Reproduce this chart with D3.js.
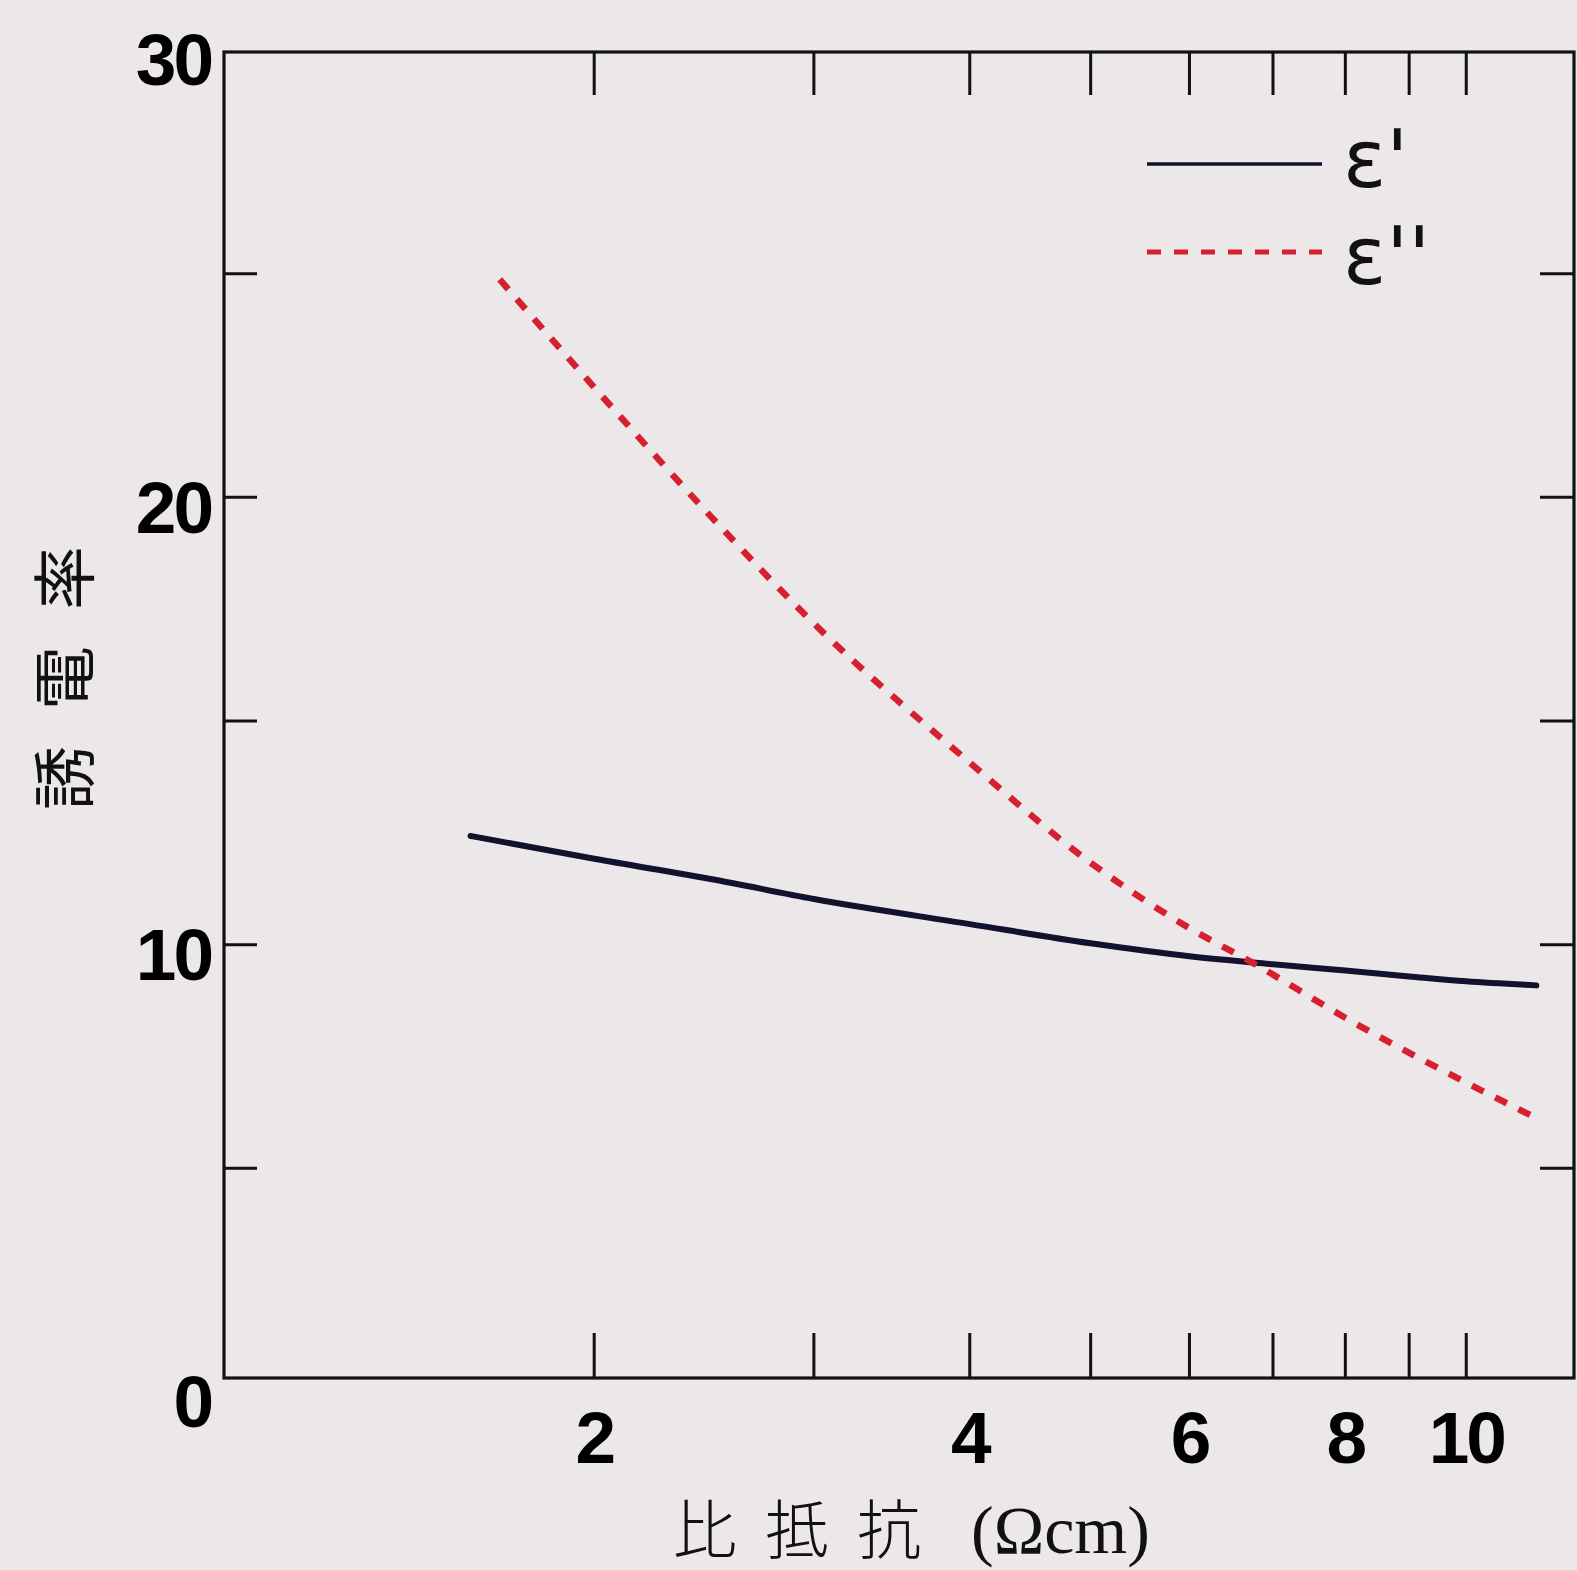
<!DOCTYPE html>
<html><head><meta charset="utf-8">
<script src="https://cdn.jsdelivr.net/npm/d3@7"></script>
<style>
html,body{margin:0;padding:0;background:#ece8e9;}
svg{display:block;}
</style>
</head><body>
<svg id="chart" width="1577" height="1570"></svg>
<script>
// ---- data ----
const resistivity1 = [1.592, 2.0, 2.5, 3.0, 4.0, 5.0, 6.0, 7.0, 8.0, 9.0, 10.0, 11.38];
const epsReal      = [12.43, 11.92, 11.45, 11.02, 10.46, 10.03, 9.74, 9.56, 9.42, 9.29, 9.18, 9.09];
const resistivity2 = [1.680, 2.0, 2.5, 3.0, 4.0, 5.0, 6.0, 6.737, 8.006, 10.04, 11.26];
const epsImag      = [24.87, 22.46, 19.47, 17.18, 14.07, 11.83, 10.37, 9.60, 8.36, 6.89, 6.19];
const xTickLabels = [2, 4, 6, 8, 10];
const xMinorTicks = [2, 3, 4, 5, 6, 7, 8, 9, 10];
const yTickLabels = [0, 10, 20, 30];
const yMinorTicks = [5, 10, 15, 20, 25];
const seriesNames = ["ε'", "ε''"];
const xTitle = "比 抵 抗";
const xUnit = "(Ωcm)";
const yTitle = "誘電率";

const svg = d3.select("#chart");
const L = 224, R = 1574, T = 52, B = 1378;
const x = d3.scaleLog().domain([1.01, 12.2]).range([L, R]);
const y = d3.scaleLinear().domain([0, 30]).range([1392, 50]);

const bg = "#ece8e9";
svg.append("rect").attr("width",1577).attr("height",1570).attr("fill",bg);

// frame
svg.append("rect").attr("x",L).attr("y",T).attr("width",R-L).attr("height",B-T)
  .attr("fill","none").attr("stroke","#111").attr("stroke-width",3.2);

// ticks (inward, all four sides)
const tk = svg.append("g").attr("stroke","#111").attr("stroke-width",3);
xMinorTicks.forEach(v=>{
  tk.append("line").attr("x1",x(v)).attr("x2",x(v)).attr("y1",B).attr("y2",B-45);
  tk.append("line").attr("x1",x(v)).attr("x2",x(v)).attr("y1",T).attr("y2",T+43);
});
yMinorTicks.forEach(v=>{
  tk.append("line").attr("x1",L).attr("x2",L+33).attr("y1",y(v)).attr("y2",y(v));
  tk.append("line").attr("x1",R).attr("x2",R-34).attr("y1",y(v)).attr("y2",y(v));
});

// tick labels
const numFont = "'Liberation Sans', Arial, sans-serif";
svg.append("g").selectAll("text").data(xTickLabels).join("text")
  .attr("x",d=>x(d)).attr("y",1463).attr("text-anchor","middle")
  .attr("font-family",numFont).attr("font-weight","bold").attr("font-size",73)
  .attr("letter-spacing",-3).attr("fill","#000").text(d=>d);
svg.append("g").selectAll("text").data(yTickLabels).join("text")
  .attr("x",211).attr("y",d=>y(d)+9).attr("dy","0.36em").attr("text-anchor","end")
  .attr("font-family",numFont).attr("font-weight","bold").attr("font-size",73)
  .attr("letter-spacing",-3).attr("fill","#000").text(d=>d);

// lines
const line = d3.line().curve(d3.curveMonotoneX).x(d=>x(d[0])).y(d=>y(d[1]));
const d1 = resistivity1.map((r,i)=>[r,epsReal[i]]);
const d2 = resistivity2.map((r,i)=>[r,epsImag[i]]);
svg.append("path").attr("d",line(d1)).attr("fill","none")
  .attr("stroke","#12122e").attr("stroke-width",6).attr("stroke-linecap","round");
svg.append("path").attr("d",line(d2)).attr("fill","none")
  .attr("stroke","#d6202f").attr("stroke-width",6.5).attr("stroke-dasharray","13 13");

// legend
const lg = svg.append("g");
lg.append("line").attr("x1",1147).attr("x2",1322).attr("y1",164).attr("y2",164)
  .attr("stroke","#12122e").attr("stroke-width",3.5);
lg.append("line").attr("x1",1147).attr("x2",1322).attr("y1",252).attr("y2",252)
  .attr("stroke","#d6202f").attr("stroke-width",5).attr("stroke-dasharray","14 13");
lg.selectAll("text").data(seriesNames).join("text")
  .attr("x",1343).attr("y",(d,i)=>187+i*97)
  .attr("font-family","'DejaVu Sans', sans-serif").attr("font-size",80)
  .attr("fill","#111").text(d=>d);

// axis titles
const xt = svg.append("text").attr("x",673).attr("y",1553)
  .attr("font-size",64).attr("fill","#111");
xt.append("tspan").attr("font-family","'Noto Sans CJK JP', sans-serif").attr("font-weight",300)
  .attr("letter-spacing",-2).text(xTitle.replace(/ /g,"\u2002"));
xt.append("tspan").attr("dx",52).attr("font-family","'Liberation Serif', serif")
  .attr("font-size",68).text(xUnit);

svg.append("text").attr("transform","translate(88,660) rotate(-90)")
  .attr("text-anchor","middle").attr("font-family","'Noto Sans CJK JP', sans-serif")
  .attr("font-weight",400).attr("font-size",64).attr("letter-spacing",36)
  .attr("fill","#111").text(yTitle);
</script>
</body></html>
